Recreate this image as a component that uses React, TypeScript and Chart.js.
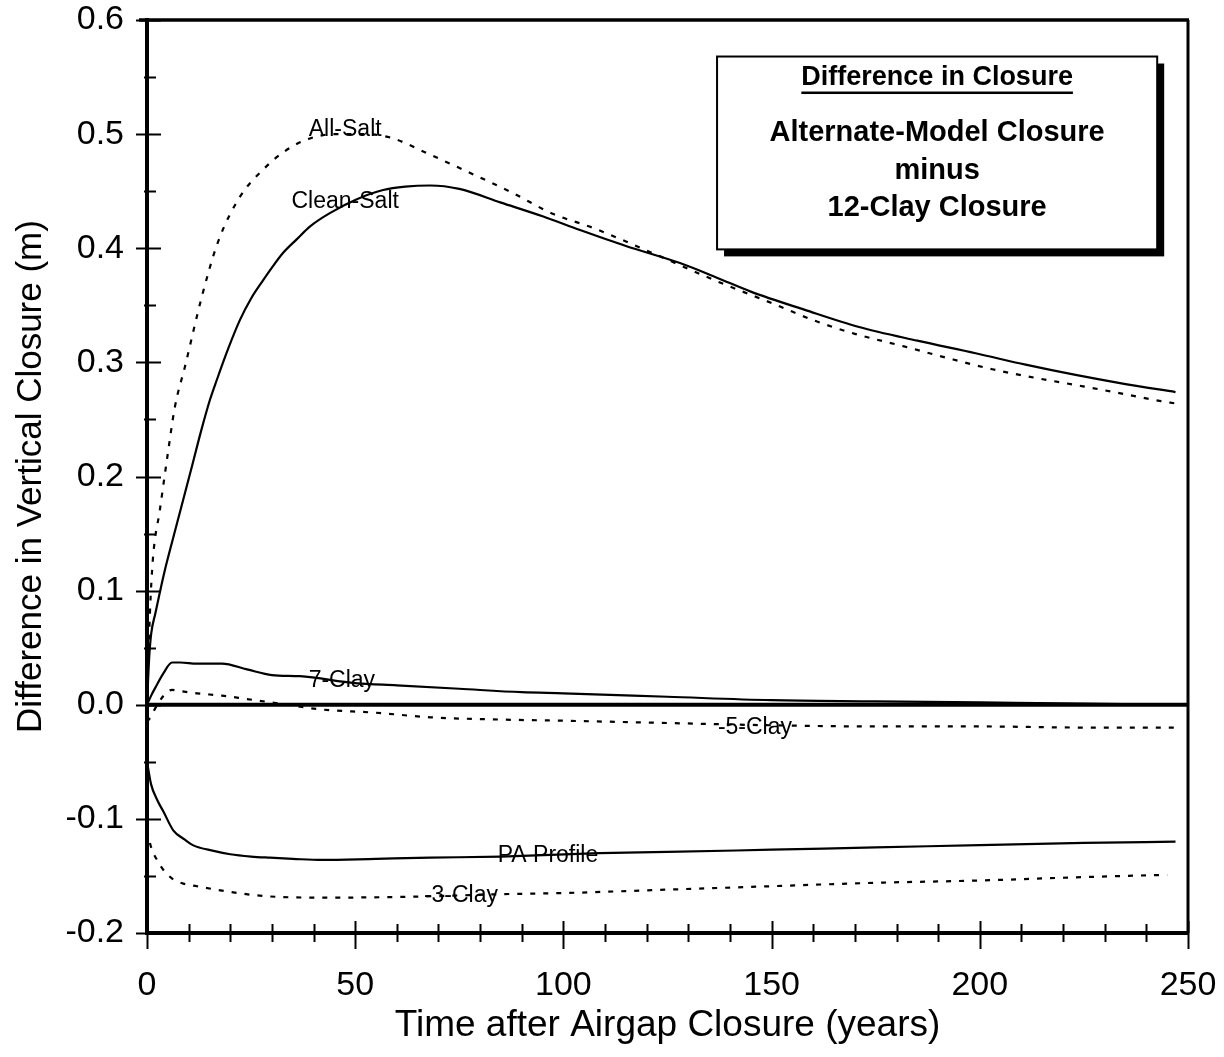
import React, { useEffect, useRef } from "react";
import { Chart, registerables } from "chart.js";

Chart.register(...registerables);

// ---- Data (years after airgap closure, difference in vertical closure in m) ----
const allSaltT = [0, 0.7, 1.4, 3.1, 4.8, 6.7, 9.1, 13.2, 17, 22.3, 27.9, 32.7, 37.5, 45, 52, 58.4, 68, 77, 87, 97.6, 107, 120, 137.6, 150, 160, 170, 181.8, 192, 203, 214, 224.8, 235, 243.5, 247];
const allSaltV = [0, 0.08, 0.127, 0.171, 0.215, 0.261, 0.296, 0.358, 0.405, 0.445, 0.469, 0.484, 0.494, 0.5, 0.5, 0.497, 0.482, 0.467, 0.45, 0.43, 0.418, 0.398, 0.37, 0.352, 0.337, 0.325, 0.314, 0.304, 0.294, 0.286, 0.279, 0.272, 0.266, 0.264];

const cleanSaltT = [0, 0.5, 1, 2, 3, 4.3, 6.2, 8, 10.8, 13, 15.1, 16.8, 19.5, 22.3, 25, 27.9, 30, 32.7, 36, 39.1, 44, 50.4, 56.7, 62, 68, 75, 85, 95, 104, 115, 128, 137, 145, 158, 171, 185, 199, 211, 223, 235, 247];
const cleanSaltV = [0, 0.04, 0.062, 0.08, 0.097, 0.118, 0.145, 0.17, 0.209, 0.24, 0.267, 0.285, 0.312, 0.337, 0.356, 0.372, 0.383, 0.396, 0.408, 0.419, 0.431, 0.443, 0.451, 0.454, 0.455, 0.452, 0.44, 0.428, 0.416, 0.402, 0.387, 0.374, 0.362, 0.346, 0.331, 0.319, 0.308, 0.298, 0.289, 0.281, 0.274];

const clay7T = [0, 1, 2, 4, 6, 8, 12, 18, 24, 30, 36.7, 50, 60, 75, 90, 100, 125, 150, 175, 200, 225, 248];
const clay7V = [0, 0.008, 0.015, 0.028, 0.037, 0.037, 0.036, 0.036, 0.031, 0.026, 0.025, 0.019, 0.017, 0.014, 0.011, 0.01, 0.007, 0.004, 0.003, 0.002, 0.001, 0.0];

const clay5T = [0, 1, 2, 4, 6, 8, 12, 18, 24, 30, 41.5, 55, 68, 85, 100, 125, 150, 175, 200, 225, 248];
const clay5V = [-0.015, -0.01, -0.003, 0.008, 0.013, 0.012, 0.01, 0.008, 0.005, 0.002, -0.004, -0.007, -0.011, -0.013, -0.014, -0.016, -0.018, -0.019, -0.019, -0.02, -0.02];

const paProfileT = [0, 1, 2.4, 4, 6.3, 9, 11, 16, 20, 25, 29.5, 35, 42, 55, 68, 85, 108.6, 125, 150, 175, 200, 225, 247];
const paProfileV = [-0.05, -0.07, -0.083, -0.094, -0.11, -0.118, -0.123, -0.128, -0.131, -0.133, -0.134, -0.135, -0.136, -0.135, -0.134, -0.133, -0.13, -0.129, -0.127, -0.125, -0.123, -0.121, -0.12];

const clay3T = [0, 1, 2.4, 4, 6.3, 9, 12, 20, 29.5, 44, 66, 85, 100, 125, 150, 175, 200, 225, 245];
const clay3V = [-0.11, -0.125, -0.136, -0.145, -0.153, -0.157, -0.159, -0.164, -0.168, -0.169, -0.168, -0.166, -0.165, -0.162, -0.159, -0.156, -0.154, -0.151, -0.149];

// Curve labels (text, position in data coordinates)
const curveLabelText = ["All-Salt", "Clean-Salt", "7-Clay", "-5-Clay", "PA Profile", "-3-Clay"];
const curveLabelT = [47.6, 47.6, 46.8, 146, 96.3, 75.4];
const curveLabelV = [0.504, 0.441, 0.021, -0.02, -0.132, -0.167];

const xTickValues = [0, 50, 100, 150, 200, 250];
const xMinorStep = 10;
const yTickValues = [-0.2, -0.1, 0.0, 0.1, 0.2, 0.3, 0.4, 0.5, 0.6];
const yMinorStep = 0.05;

const boxLines = ["Difference in Closure", "Alternate-Model Closure", "minus", "12-Clay Closure"];

const FONT = "'Liberation Sans', Arial, Helvetica, sans-serif";

function pts(t: number[], v: number[]) {
  return t.map((x, i) => ({ x, y: v[i] }));
}

const framePlugin = {
  id: "framePlugin",
  beforeDraw(chart: any) {
    const { ctx, width, height } = chart;
    ctx.save();
    ctx.fillStyle = "#fff";
    ctx.fillRect(0, 0, width, height);
    ctx.restore();
  },
  afterDraw(chart: any) {
    const { ctx, chartArea } = chart;
    const xs = chart.scales.x;
    const ys = chart.scales.y;
    const L = chartArea.left, R = chartArea.right, T = chartArea.top, B = chartArea.bottom;
    ctx.save();
    ctx.strokeStyle = "#000";
    ctx.lineCap = "butt";

    // frame
    ctx.lineWidth = 4;
    ctx.beginPath(); ctx.moveTo(L, T - 2); ctx.lineTo(L, B + 2); ctx.stroke();
    ctx.beginPath(); ctx.moveTo(L - 2, B); ctx.lineTo(R + 1, B); ctx.stroke();
    ctx.lineWidth = 3.5;
    ctx.beginPath(); ctx.moveTo(L - 8, T); ctx.lineTo(R + 1, T); ctx.stroke();
    ctx.lineWidth = 3;
    ctx.beginPath(); ctx.moveTo(R, T); ctx.lineTo(R, B); ctx.stroke();

    // zero line
    const y0 = ys.getPixelForValue(0);
    ctx.lineWidth = 4;
    ctx.beginPath(); ctx.moveTo(L, y0); ctx.lineTo(R, y0); ctx.stroke();

    // y ticks
    ctx.lineWidth = 2;
    for (let v = -0.2; v <= 0.6001; v += yMinorStep) {
      const y = Math.round(ys.getPixelForValue(v)) + 0.5;
      const major = Math.abs(Math.round(v * 10) - v * 10) < 1e-6;
      ctx.beginPath();
      if (major) { ctx.moveTo(L - 11, y); ctx.lineTo(L + 14, y); }
      else { ctx.moveTo(L - 3, y); ctx.lineTo(L + 9, y); }
      ctx.stroke();
    }
    // x ticks
    for (let t = 0; t <= 250.001; t += xMinorStep) {
      const x = Math.round(xs.getPixelForValue(t)) + 0.5;
      const major = xTickValues.indexOf(Math.round(t)) >= 0;
      ctx.beginPath();
      if (major) { ctx.moveTo(x, B - 12); ctx.lineTo(x, B + 16); }
      else { ctx.moveTo(x, B - 9); ctx.lineTo(x, B + 9); }
      ctx.stroke();
    }

    // curve labels
    ctx.fillStyle = "#000";
    ctx.font = `23px ${FONT}`;
    ctx.textAlign = "center";
    ctx.textBaseline = "middle";
    curveLabelText.forEach((txt, i) => {
      ctx.fillText(txt, xs.getPixelForValue(curveLabelT[i]), ys.getPixelForValue(curveLabelV[i]));
    });

    // annotation box
    const bx = xs.getPixelForValue(136.9), by = ys.getPixelForValue(0.568);
    const bx2 = xs.getPixelForValue(242.6), by2 = ys.getPixelForValue(0.399);
    const bw = bx2 - bx, bh = by2 - by;
    ctx.fillStyle = "#000";
    ctx.fillRect(bx + 7, by + 7, bw, bh);
    ctx.fillStyle = "#fff";
    ctx.fillRect(bx, by, bw, bh);
    ctx.lineWidth = 2;
    ctx.strokeRect(bx, by, bw, bh);
    const cx = bx + bw / 2;
    ctx.fillStyle = "#000";
    ctx.font = `bold 27px ${FONT}`;
    ctx.fillText(boxLines[0], cx, by + 21);
    const hw = ctx.measureText(boxLines[0]).width;
    ctx.fillRect(cx - hw / 2, by + 35, hw, 2.5);
    ctx.font = `bold 29px ${FONT}`;
    ctx.fillText(boxLines[1], cx, by + 76);
    ctx.fillText(boxLines[2], cx, by + 114);
    ctx.fillText(boxLines[3], cx, by + 151);
    ctx.restore();
  },
};

export default function App() {
  const ref = useRef<HTMLCanvasElement | null>(null);
  useEffect(() => {
    if (!ref.current) return;
    const solid = { borderColor: "#000", borderWidth: 2.2, pointRadius: 0, fill: false, cubicInterpolationMode: "monotone" as const };
    const dashed = { ...solid, borderWidth: 2.2, borderDash: [5, 8] };
    const chart = new Chart(ref.current, {
      type: "line",
      data: {
        datasets: [
          { label: "All-Salt", data: pts(allSaltT, allSaltV), ...dashed },
          { label: "Clean-Salt", data: pts(cleanSaltT, cleanSaltV), ...solid },
          { label: "7-Clay", data: pts(clay7T, clay7V), ...solid },
          { label: "-5-Clay", data: pts(clay5T, clay5V), ...dashed },
          { label: "PA Profile", data: pts(paProfileT, paProfileV), ...solid },
          { label: "-3-Clay", data: pts(clay3T, clay3V), ...dashed },
        ] as any,
      },
      options: {
        animation: false,
        responsive: false,
        devicePixelRatio: 1,
        layout: { padding: { left: 0, right: 36, top: 20, bottom: 0 } },
        plugins: { legend: { display: false }, tooltip: { enabled: false } },
        scales: {
          x: {
            type: "linear",
            min: 0,
            max: 250,
            afterBuildTicks: (s: any) => { s.ticks = xTickValues.map((value) => ({ value })); },
            afterFit: (s: any) => { s.height = 124; s.paddingLeft = 0; s.paddingRight = 0; },
            grid: { display: false },
            border: { display: false },
            ticks: { color: "#000", font: { family: FONT, size: 34 }, padding: 24, maxRotation: 0 },
            title: { display: true, text: "Time after Airgap Closure (years)", color: "#000", font: { family: FONT, size: 37 }, padding: { top: 0, bottom: 9 } },
          },
          y: {
            type: "linear",
            min: -0.2,
            max: 0.6,
            afterBuildTicks: (s: any) => { s.ticks = yTickValues.map((value) => ({ value })); },
            afterFit: (s: any) => { s.width = 147; s.paddingTop = 0; s.paddingBottom = 0; },
            grid: { display: false },
            border: { display: false },
            ticks: {
              color: "#000",
              font: { family: FONT, size: 34 },
              padding: 15,
              callback: (v: any) => { const r = Math.round(Number(v) * 10) / 10; return (r === 0 ? 0 : r).toFixed(1); },
            },
            title: { display: true, text: "Difference in Vertical Closure (m)", color: "#000", font: { family: FONT, size: 35 }, padding: { top: 10, bottom: 0 } },
          },
        },
      } as any,
      plugins: [framePlugin],
    });
    return () => chart.destroy();
  }, []);
  return (
    <div style={{ position: "absolute", left: 0, top: 0, width: 1224, height: 1057 }}>
      <canvas ref={ref} width={1224} height={1057} style={{ width: 1224, height: 1057, display: "block" }} />
    </div>
  );
}
